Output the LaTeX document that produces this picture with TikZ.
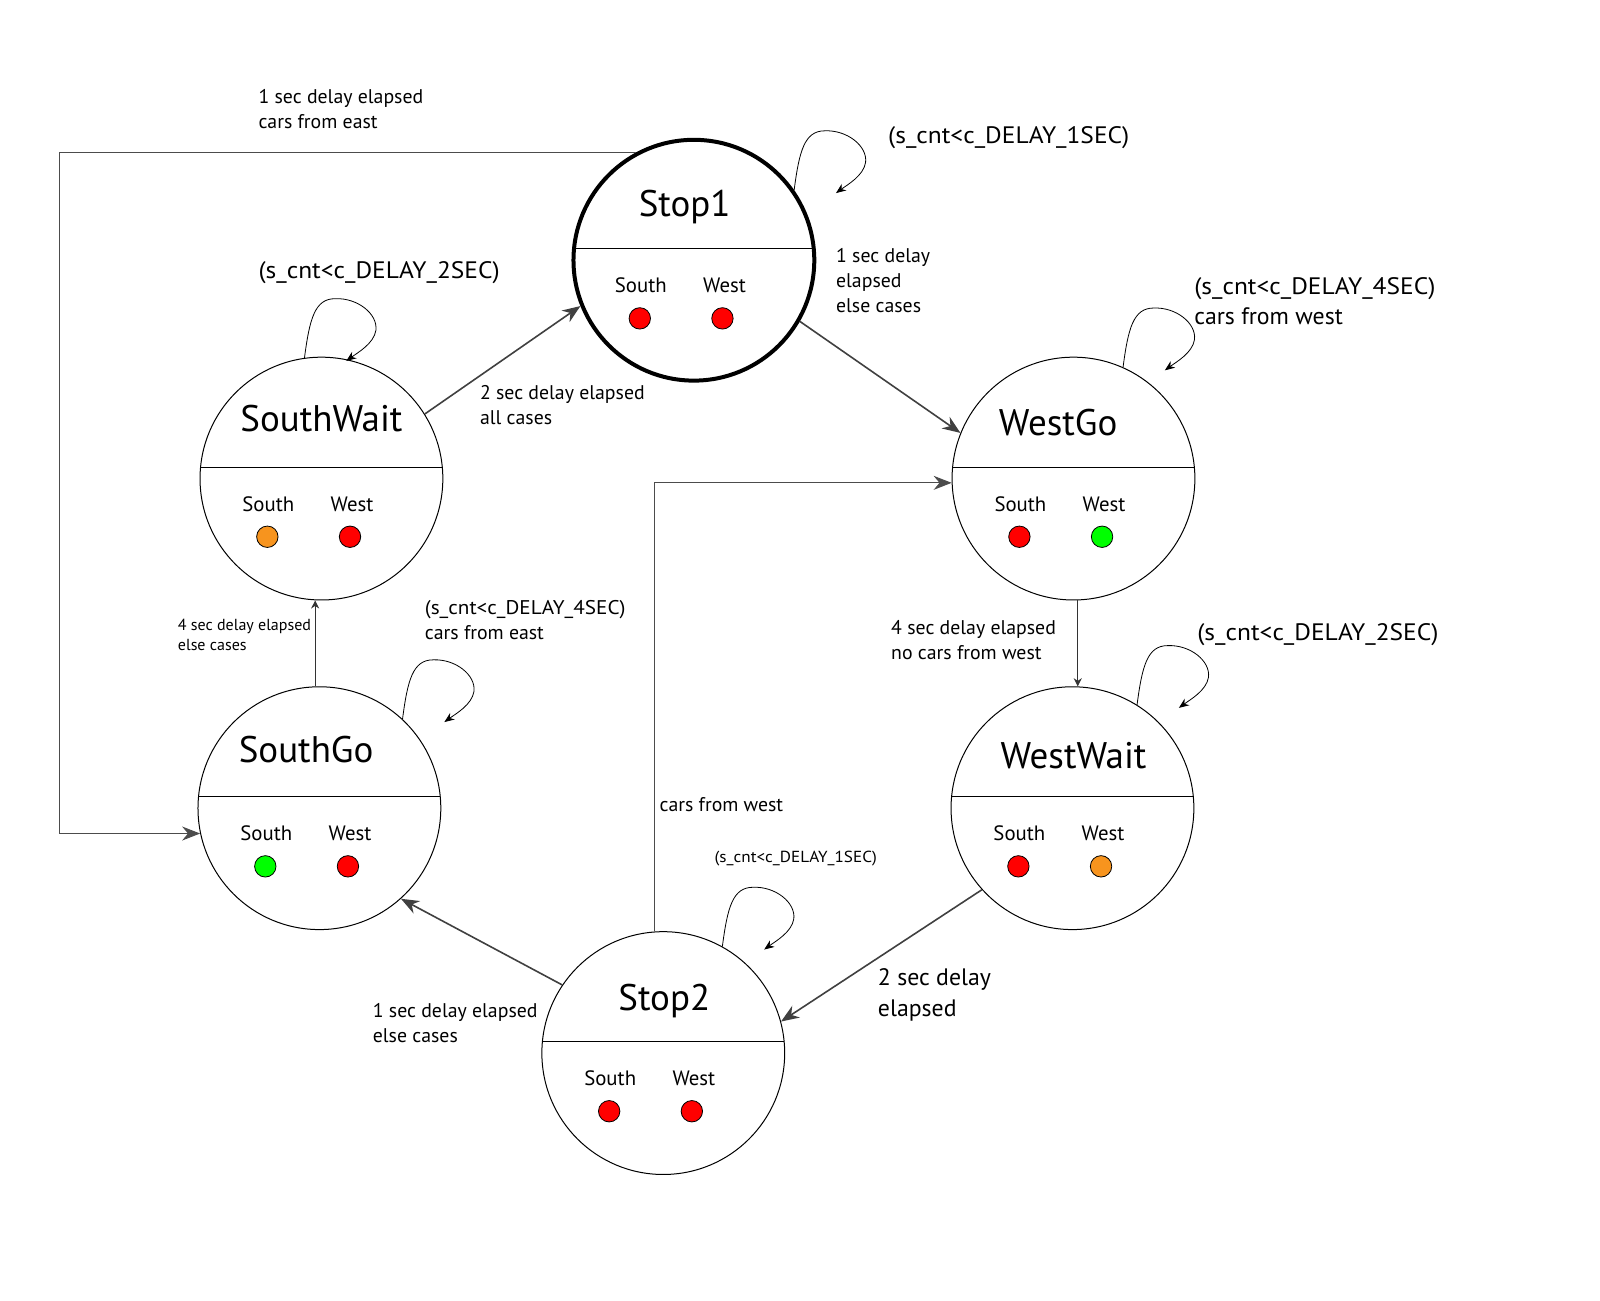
\documentclass[tikz,border=0pt]{standalone}
\usepackage{fontspec}
\setmainfont{PT Sans}
\usetikzlibrary{arrows.meta}
\definecolor{lampred}{HTML}{FF0000}
\definecolor{lamporange}{HTML}{F7941E}
\definecolor{lampgreen}{HTML}{00FF00}
% counter condition, set a bit wider
\newcommand\cntcond[1]{\scalebox{1.07}[1]{(s\_cnt<c\_DELAY\_#1)}}
\tikzset{
  state/.style={circle, draw, inner sep=0pt},
  titletext/.style={font=\fontsize{18.5}{22}\selectfont, inner sep=0pt, anchor=base},
  lamplab/.style={font=\fontsize{10.4}{12}\selectfont, inner sep=0pt, anchor=base},
  lamp/.style={circle, draw, line width=0.4pt, inner sep=0pt, minimum size=10.7pt},
  lbl/.style={font=\fontsize{9.9}{12.5}\selectfont, align=left, anchor=west, inner sep=0pt},
  biglbl/.style={lbl, font=\fontsize{11.9}{15.3}\selectfont},
  smalllbl/.style={lbl, font=\fontsize{8}{10}\selectfont},
  edge/.style={line width=0.8pt, draw=black!75, -{Stealth[length=9pt, width=7pt]}},
  thinedge/.style={line width=0.5pt, draw=black!80, -{Stealth[length=4pt, width=4pt]}},
  feed/.style={line width=0.5pt, draw=black!70, -{Stealth[length=9pt, width=7pt]}},
  loopline/.style={line width=0.4pt, -{Stealth[length=5pt, width=4pt]}}
}
\begin{document}
\begin{tikzpicture}[x=0.5102pt, y=-0.5102pt]
  \useasboundingbox (0,0) rectangle (1568,1274);
  % states: name/x/y/title/title shift/lamps/border/size
  \foreach \nm/\x/\y/\ttl/\tx/\ty/\cs/\cw/\lw/\sz in {
      stopA/680/255/Stop1/-9/-55/lampred/lampred/2pt/120.4pt,
      sw/315/469/SouthWait/0/-58/lamporange/lampred/0.5pt/121.4pt,
      wg/1052/469/WestGo/-15/-54/lampred/lampgreen/0.5pt/121.4pt,
      sg/313/792/SouthGo/-13/-57/lampgreen/lampred/0.5pt/121.4pt,
      ww/1051/792/WestWait/1/-51/lampred/lamporange/0.5pt/121.4pt,
      st2/650/1032/Stop2/1/-54/lampred/lampred/0.5pt/121.4pt} {
    \node[state, line width=\lw, minimum size=\sz] (\nm) at (\x,\y) {};
    \draw[line width=0.5pt] ([shift={(1,-11)}]\nm.west) -- ([shift={(-1,-11)}]\nm.east);
    \node[titletext] (\nm-t) at ([shift={(\tx,\ty+12)}]\nm.center) {\ttl};
    \node[lamplab] (\nm-s) at ([shift={(-52,32)}]\nm.center) {South};
    \node[lamplab] (\nm-w) at ([shift={(30,32)}]\nm.center) {West};
    \node[lamp, fill=\cs] (\nm-ls) at ([shift={(-53,57)}]\nm.center) {};
    \node[lamp, fill=\cw] (\nm-lw) at ([shift={(28,57)}]\nm.center) {};
  }
  % self loops
  \foreach \nd/\ang in {stopA/35, sw/98, wg/66, ww/58, sg/47, st2/61} {
    \begin{scope}[shift={(\nd.\ang)}]
      \draw[loopline] (0,0) .. controls (5,-38) and (10,-58) .. (30,-58)
        .. controls (52,-59) and (72,-43) .. (70,-27)
        .. controls (68,-14) and (52,-5) .. (41,3);
    \end{scope}
  }
  % transitions
  \draw[edge] (sw.32) -- (stopA.202);
  \draw[edge] (stopA.-30) -- (wg.158);
  \draw[thinedge] (wg.-88) -- (wg.-88 |- ww.north);
  \draw[edge] (ww.-138) -- (st2.15);
  \draw[edge] (st2.146) -- (sg.-48);
  \draw[thinedge] (sg.92) -- (sg.92 |- sw.south);
  \draw[feed] (st2.94) |- (wg.182);
  \coordinate (fbleft) at (58,150);
  \draw[feed] (stopA.118) -- (stopA.118 -| fbleft) |- (sg.192);
  % labels
  \node[lbl] (l-stopA-sg) at (253,106.5) {1 sec delay elapsed\\cars from east};
  \node[biglbl] (l-stopA-loop) at (870,135) {\cntcond{1SEC}};
  \node[lbl] (l-stopA-wg) at (819,274.5) {1 sec delay\\elapsed\\else cases};
  \node[biglbl] (l-sw-loop) at (253,267) {\cntcond{2SEC}};
  \node[lbl] (l-sw-stopA) at (470,396.5) {2 sec delay elapsed\\all cases};
  \node[biglbl] (l-wg-loop) at (1170,295) {\cntcond{4SEC}\\cars from west};
  \node[smalllbl] (l-sg-sw) at (174,622.5) {4 sec delay elapsed\\else cases};
  \node[lbl] (l-sg-loop) at (416,608) {\cntcond{4SEC}\\cars from east};
  \node[lbl] (l-wg-ww) at (873,627) {4 sec delay elapsed\\no cars from west};
  \node[biglbl] (l-ww-loop) at (1173,622) {\cntcond{2SEC}};
  \node[lbl] (l-st2-wg) at (646,789) {cars from west};
  \node[smalllbl] (l-st2-loop) at (700,841) {\cntcond{1SEC}};
  \node[biglbl] (l-ww-st2) at (860,975) {2 sec delay\\elapsed};
  \node[lbl] (l-st2-sg) at (365,1003) {1 sec delay elapsed\\else cases};
\end{tikzpicture}
\end{document}
